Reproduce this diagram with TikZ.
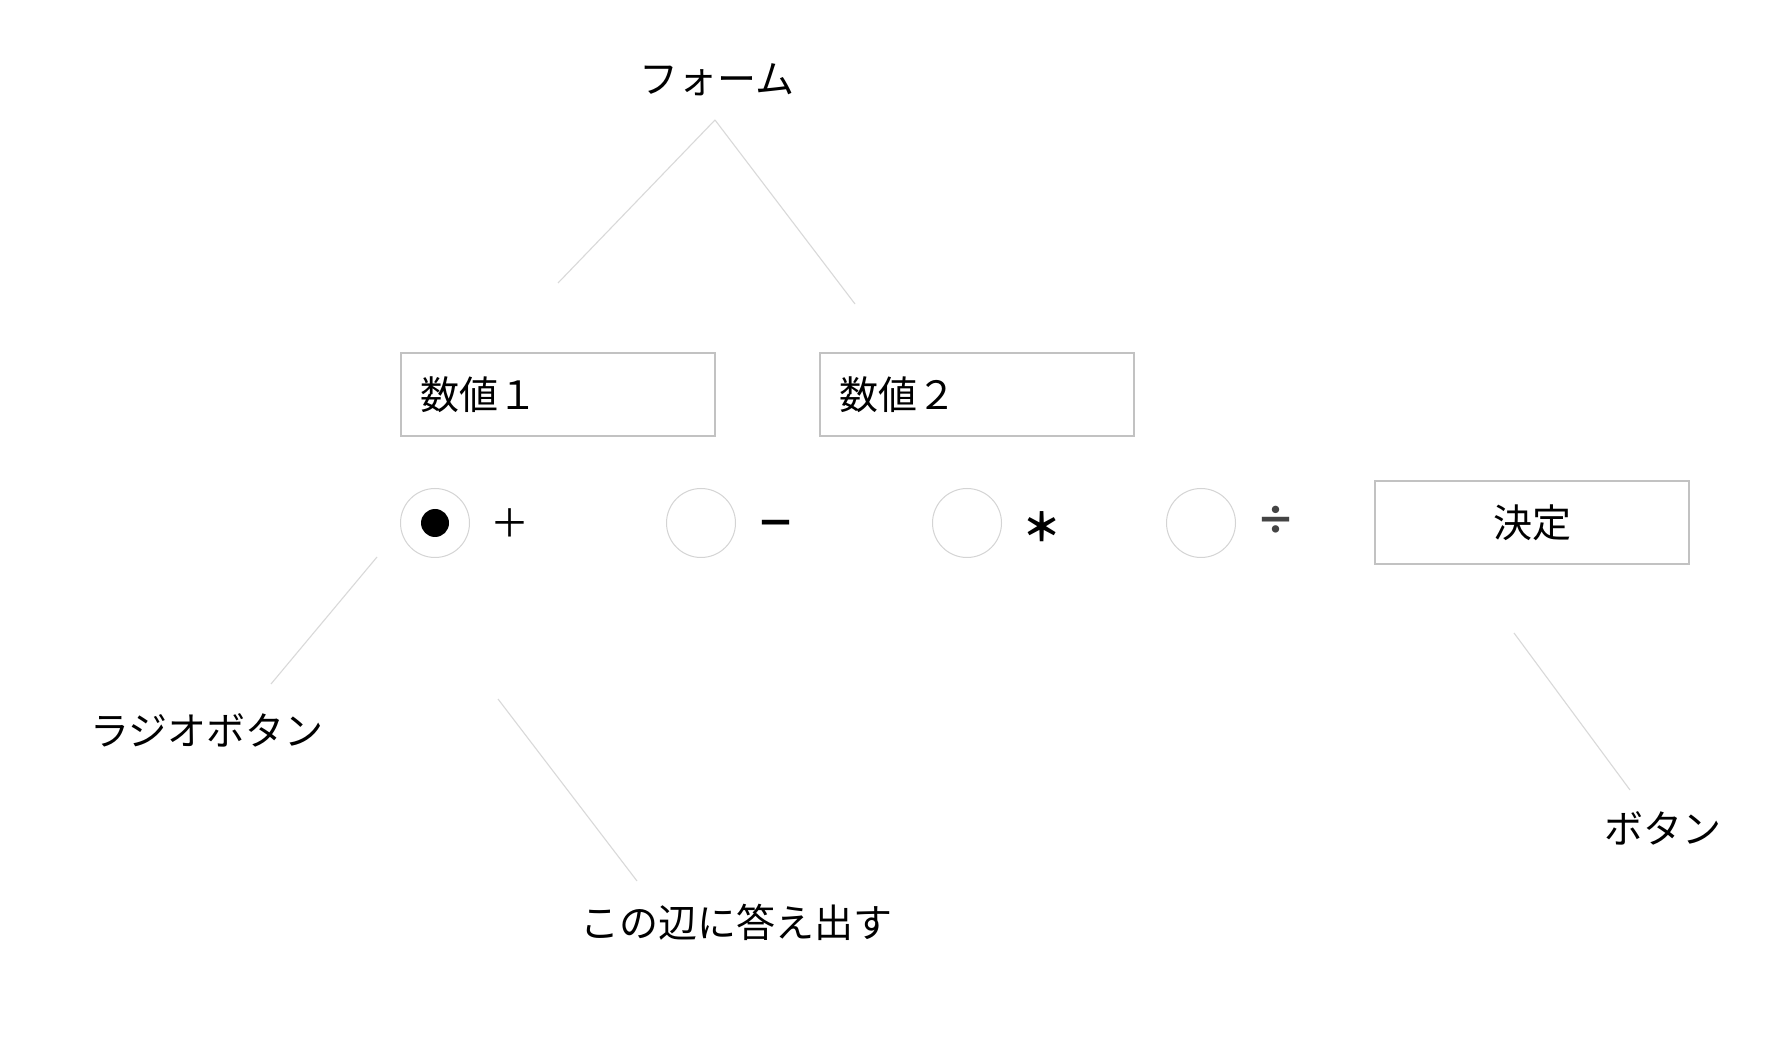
\documentclass[tikz,border=0pt]{standalone}
\usepackage{fontspec}
\setmainfont{Noto Sans CJK JP}
\usepackage{tikz}
\definecolor{wiregray}{HTML}{D9D9D9}
\definecolor{boxgray}{HTML}{C2C2C2}
\definecolor{ringgray}{HTML}{D4D4D4}
\definecolor{opgray}{HTML}{444444}
\newcommand{\jpsize}{\fontsize{19.5pt}{23pt}\selectfont}
\tikzstyle{jtext}=[inner sep=0, outer sep=0, text height=17.2pt, text depth=2.3pt, font=\jpsize]
\tikzstyle{boldop}=[jtext, font=\jpsize\bfseries]
\tikzstyle{field}=[jtext, draw=boxgray, line width=0.6pt, minimum height=41.5pt,
                   text width=138pt, inner xsep=9.5pt, align=left]
\tikzstyle{pushbtn}=[field, align=center]
\tikzstyle{radio}=[circle, draw=ringgray, line width=0.5pt, inner sep=0, minimum size=34.5pt]
\tikzstyle{radiodot}=[circle, fill=black, inner sep=0, minimum size=14pt]
\tikzstyle{wire}=[draw=wiregray, line width=0.55pt]

\begin{document}
\begin{tikzpicture}[x=0.5pt, y=-0.5pt]
        \fill[white] (0,0) rectangle (1776,1052);
        \useasboundingbox (0,0) rectangle (1776,1052);
        % input fields
        \node[field]   (N1) at (558,394.5)  {数値１};
        \node[field]   (N2) at (977,394.5)  {数値２};
        % radio buttons with operators
        \node[radio]   (R1) at (435,523)  {};
        \node[radiodot]     at (R1)       {};
        \node[jtext]   (P)  at (510,523)  {＋};
        \node[radio]   (R2) at (701,523)  {};
        \node[boldop]  (M)  at (776,523)  {－};
        \node[radio]   (R3) at (967,523)  {};
        \node[boldop]  (T)  at (1042,527) {＊};
        \node[radio]   (R4) at (1201,523) {};
        \node[boldop, text=opgray] (D) at (1276,520) {÷};
        \node[pushbtn] (B)  at (1532,522.5) {決定};
        % captions
        \node[jtext]   (form)   at (717,79)  {フォーム};
        \node[jtext]   (radiol) at (207,731) {ラジオボタン};
        \node[jtext]   (answer) at (736,923) {この辺に答え出す};
        \node[jtext]   (button) at (1663,829) {ボタン};
        % free ends of the leader lines
        \coordinate (formfoot) at (715,120);
        \coordinate (N1top)    at (558,283);
        \coordinate (N2top)    at (855,304);
        \coordinate (R1foot)   at (377,557);
        \coordinate (radiotop) at (271,684);
        \coordinate (area)     at (498,699);
        \coordinate (answertop) at (637,881);
        \coordinate (Bfoot)    at (1514,633);
        \coordinate (buttontop) at (1630,790);
        \draw[wire] (formfoot) -- (N1top);
        \draw[wire] (formfoot) -- (N2top);
        \draw[wire] (R1foot) -- (radiotop);
        \draw[wire] (area) -- (answertop);
        \draw[wire] (Bfoot) -- (buttontop);
    \end{tikzpicture}
\end{document}
